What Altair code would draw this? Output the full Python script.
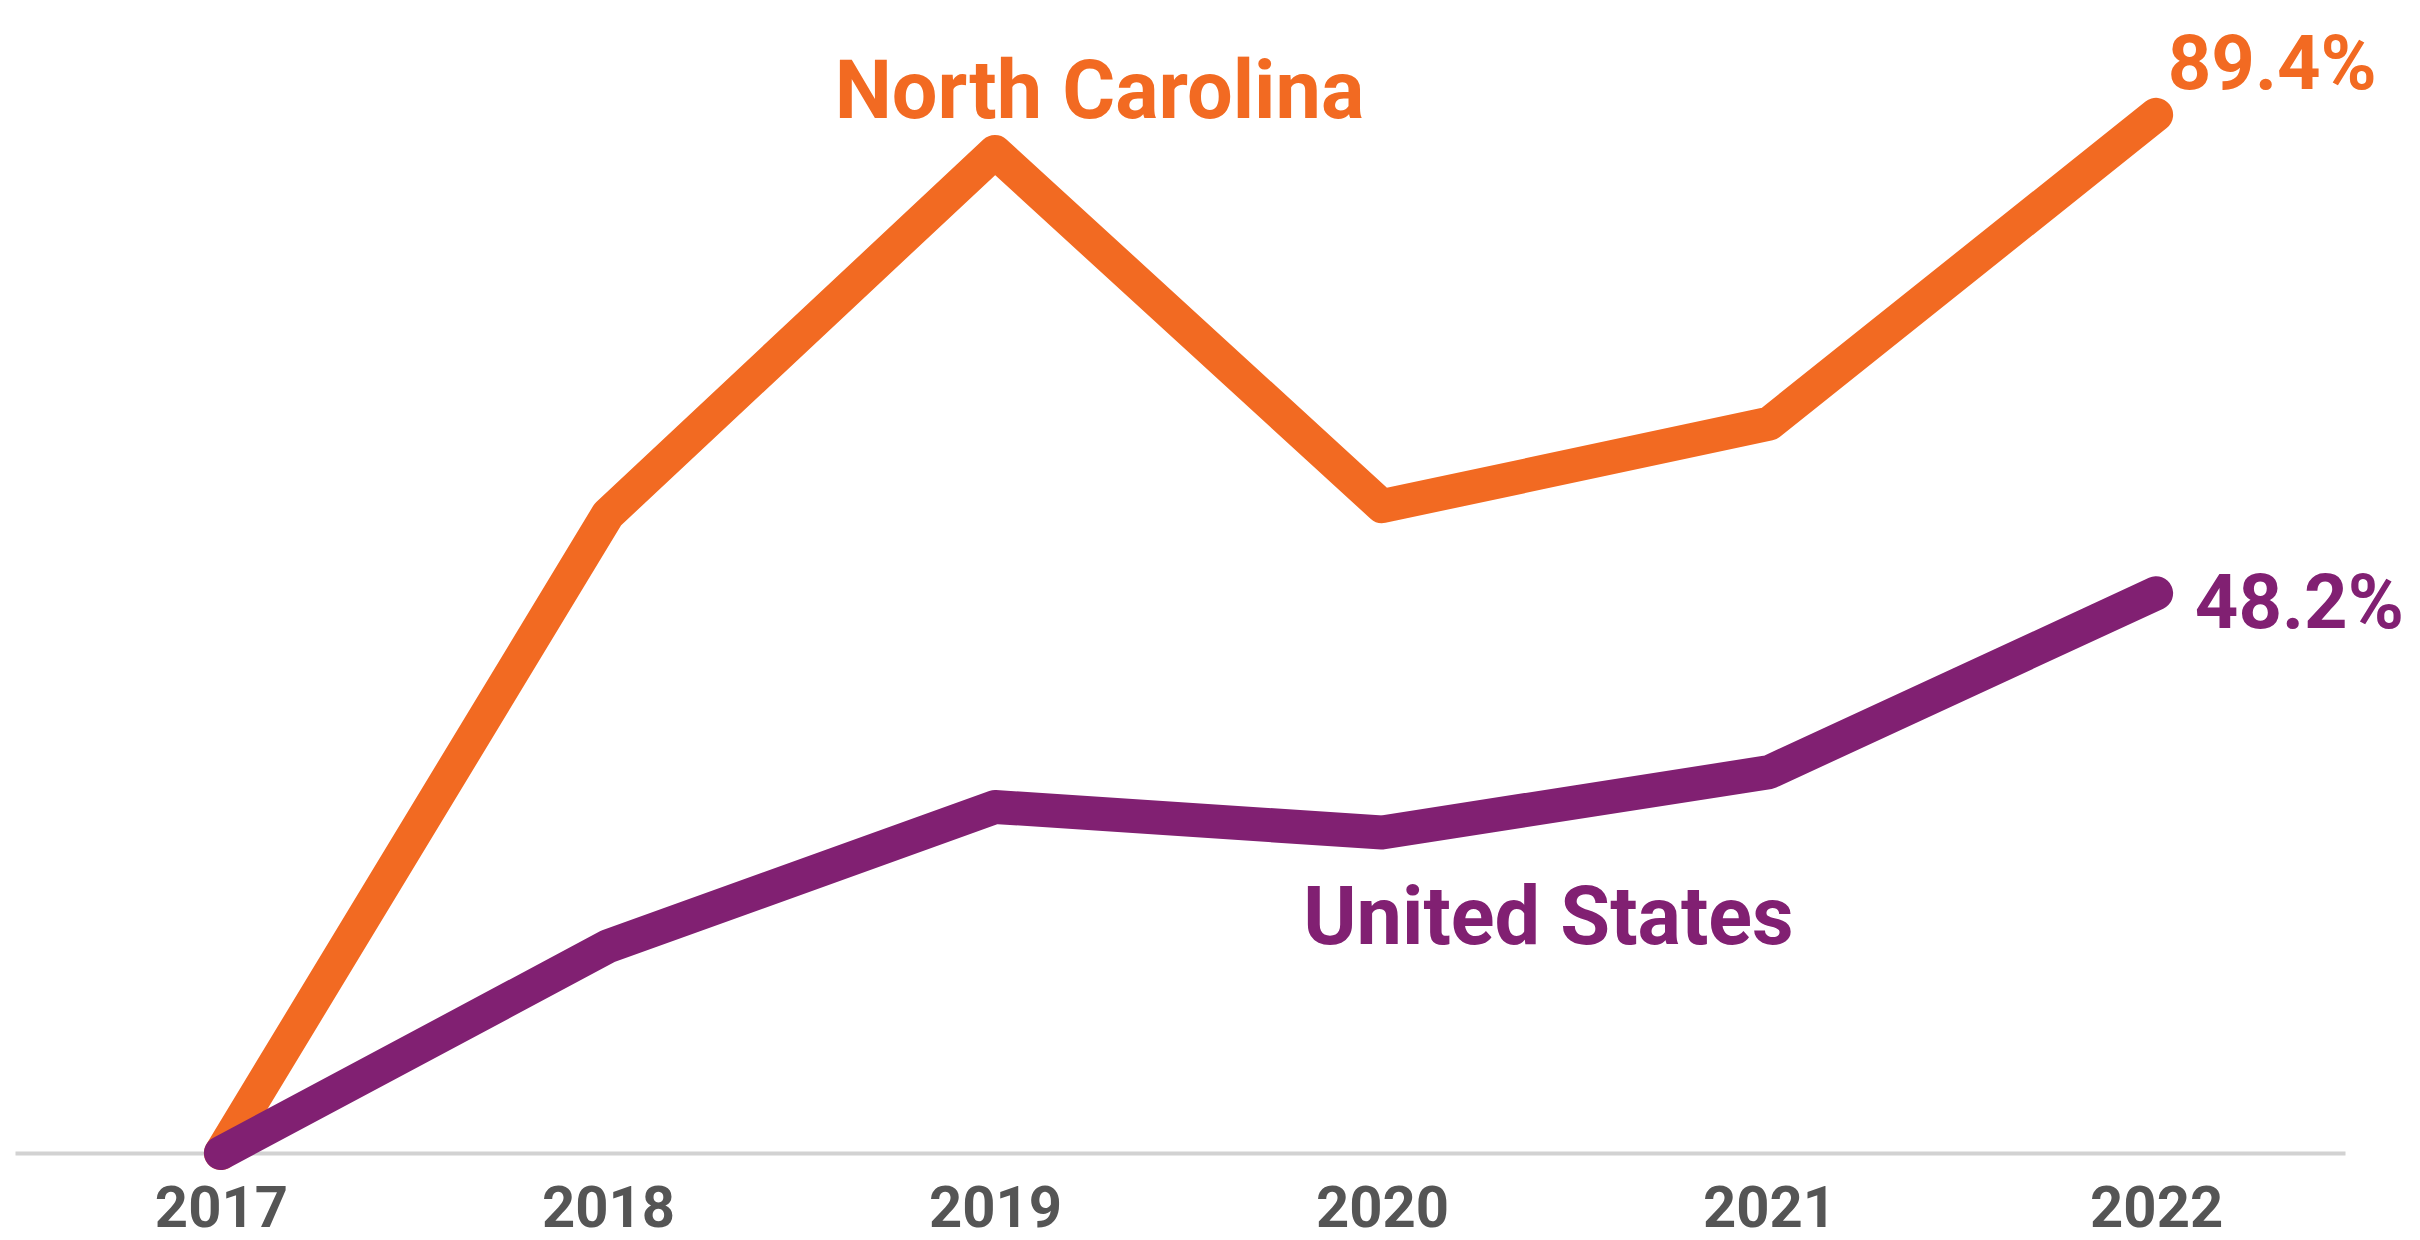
import altair as alt
import pandas as pd

years = [2017, 2018, 2019, 2020, 2021, 2022]
nc_values = [0.0, 55.0, 86.2, 55.7, 62.8, 89.4]
us_values = [0.0, 17.8, 29.8, 27.6, 32.8, 48.2]

series_names = ["North Carolina", "United States"]
series_colors = ["#F26A22", "#812072"]

# annotation labels (text, x in years, y in %)
label_text = ["North Carolina", "United States"]
label_x = [2019.27, 2020.43]
label_y = [89.1, 18.0]
end_text = ["89.4%", "48.2%"]
end_x = [2022.03, 2022.10]
end_y = [91.6, 45.2]

rows = []
for y, a, b in zip(years, nc_values, us_values):
    rows.append({"year": y, "value": a, "series": series_names[0]})
    rows.append({"year": y, "value": b, "series": series_names[1]})
df = pd.DataFrame(rows)

lab_df = pd.DataFrame({"text": label_text, "x": label_x, "y": label_y, "series": series_names})
end_df = pd.DataFrame({"text": end_text, "x": end_x, "y": end_y, "series": series_names})

xscale = alt.Scale(domain=[2016.468, 2022.488], nice=False, zero=False)
yscale = alt.Scale(domain=[0, 98.6], nice=False, zero=False)
cscale = alt.Scale(domain=series_names, range=series_colors)

lines = alt.Chart(df).mark_line(strokeWidth=34, strokeCap="round", strokeJoin="round").encode(
    x=alt.X("year:Q", scale=xscale,
            axis=alt.Axis(values=years, format="d", title=None, grid=False, ticks=False,
                          domainColor="#d2d2d2", domainWidth=4,
                          labelFont="Roboto", labelFontWeight="bold",
                          labelFontSize=58, labelColor="#555555", labelPadding=27)),
    y=alt.Y("value:Q", scale=yscale, axis=None),
    color=alt.Color("series:N", scale=cscale, legend=None),
    order=alt.Order("year:Q"),
    detail="series:N",
)
# draw orange under purple
nc_line = lines.transform_filter(alt.datum.series == series_names[0])
us_line = lines.transform_filter(alt.datum.series == series_names[1])

names = alt.Chart(lab_df).mark_text(font="Roboto", fontWeight="bold", fontSize=81,
                                    align="center", baseline="alphabetic").encode(
    x=alt.X("x:Q", scale=xscale),
    y=alt.Y("y:Q", scale=yscale),
    text="text:N",
    color=alt.Color("series:N", scale=cscale, legend=None),
)

ends = alt.Chart(end_df).mark_text(font="Roboto", fontWeight="bold", fontSize=76,
                                   align="left", baseline="alphabetic").encode(
    x=alt.X("x:Q", scale=xscale),
    y=alt.Y("y:Q", scale=yscale),
    text="text:N",
    color=alt.Color("series:N", scale=cscale, legend=None),
)

chart = alt.layer(nc_line, us_line, names, ends).properties(
    width=2330, height=1145,
    padding={"left": 7, "top": 0, "right": 60, "bottom": 84},
    autosize=alt.AutoSizeParams(type="none"),
    background="white",
).configure_view(strokeWidth=0, stroke="transparent")

chart.save("out.html", embed_options={"renderer": "svg", "actions": False})
